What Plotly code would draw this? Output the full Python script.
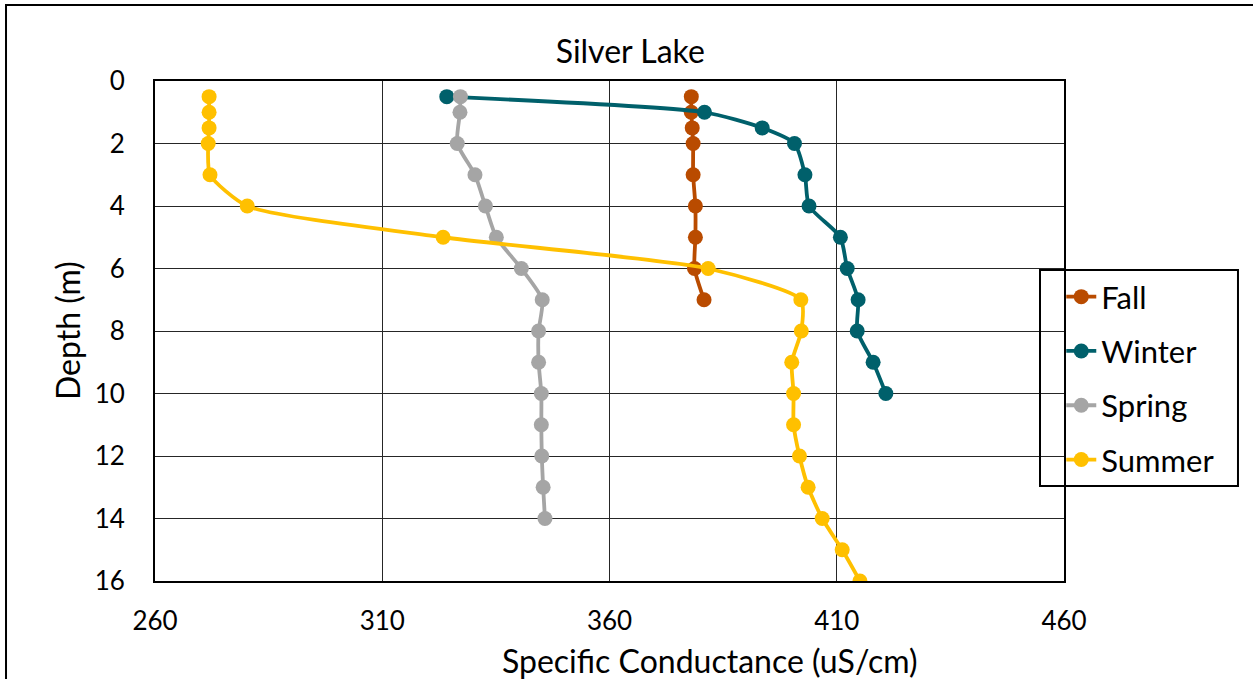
import plotly.graph_objects as go

# Specific conductance profiles (uS/cm) by depth (m), Silver Lake
fall_depth = [0.5, 1, 1.5, 2, 3, 4, 5, 6, 7]
fall_cond = [378.0, 378.0, 378.2, 378.4, 378.4, 378.9, 378.9, 378.7, 380.8]

winter_depth = [0.5, 1, 1.5, 2, 3, 4, 5, 6, 7, 8, 9, 10]
winter_cond = [324.2, 380.9, 393.6, 400.7, 403.0, 403.9, 410.8, 412.3, 414.7, 414.5, 418.0, 420.8]

spring_depth = [0.5, 1, 2, 3, 4, 5, 6, 7, 8, 9, 10, 11, 12, 13, 14]
spring_cond = [327.2, 327.1, 326.5, 330.4, 332.7, 335.1, 340.6, 345.2, 344.4, 344.4, 345.0, 345.0, 345.1, 345.4, 345.8]

summer_depth = [0.5, 1, 1.5, 2, 3, 4, 5, 6, 7, 8, 9, 10, 11, 12, 13, 14, 15, 16]
summer_cond = [271.9, 271.9, 271.9, 271.7, 272.1, 280.3, 323.4, 381.7, 402.1, 402.2, 400.1, 400.5,
               400.5, 401.8, 403.7, 406.8, 411.2, 415.1]

series = [
    ("Fall", fall_cond, fall_depth, "#B94B00"),
    ("Winter", winter_cond, winter_depth, "#00606B"),
    ("Spring", spring_cond, spring_depth, "#A5A5A5"),
    ("Summer", summer_cond, summer_depth, "#FFC000"),
]

FONT = "Lato"
TICK_FS = 26
LABEL_FS = 32

fig = go.Figure()
for name, xs, ys, color in series:
    fig.add_trace(go.Scatter(
        x=xs, y=ys, name=name, legendgroup=name,
        mode="lines+markers",
        line=dict(color=color, width=3.8, shape="spline", smoothing=0.6),
        marker=dict(color=color, size=15),
    ))

axis_common = dict(
    showgrid=True, gridcolor="#262626", gridwidth=1,
    showline=True, linecolor="black", linewidth=2, mirror=True,
    zeroline=False, ticks="", automargin=False,
    tickfont=dict(family=FONT, size=TICK_FS, color="black"),
)

fig.update_xaxes(range=[260, 460], dtick=50, tick0=260, ticklabelstandoff=16, **axis_common)
fig.update_yaxes(range=[16, 0], dtick=2, tick0=0, ticklabelstandoff=23, **axis_common)

fig.update_layout(
    width=1253, height=679,
    margin=dict(l=155, r=189, t=81, b=98),
    paper_bgcolor="white", plot_bgcolor="white",
    title=dict(text="Silver Lake", x=0.503, xanchor="center", y=0.923, yanchor="middle",
               font=dict(family=FONT, size=LABEL_FS, color="black")),
    legend=dict(
        x=0.997, y=0.622, xanchor="left", yanchor="top",
        bgcolor="rgba(0,0,0,0)", borderwidth=0,
        font=dict(family=FONT, size=31, color="black"),
        tracegroupgap=11, traceorder="grouped",
    ),
    showlegend=True,
    annotations=[
        dict(text="Specific Conductance (uS/cm)", xref="paper", yref="paper",
             x=0.6095, y=-0.158, xanchor="center", yanchor="middle", showarrow=False,
             font=dict(family=FONT, size=LABEL_FS, color="black")),
        dict(text="Depth (m)", xref="paper", yref="paper", textangle=-90,
             x=-0.0968, y=0.5, xanchor="center", yanchor="middle", showarrow=False,
             font=dict(family=FONT, size=LABEL_FS, color="black")),
    ],
    shapes=[
        # outer chart frame
        dict(type="rect", xref="paper", yref="paper",
             x0=-0.1639, x1=1.3, y0=-0.3, y1=1.152,
             line=dict(color="black", width=2), fillcolor="rgba(0,0,0,0)", layer="below"),
        # legend frame
        dict(type="rect", xref="paper", yref="paper",
             x0=0.9736, x1=1.1914, y0=0.19, y1=0.622,
             line=dict(color="black", width=2), fillcolor="rgba(0,0,0,0)", layer="above"),
    ],
)

fig.write_html("out.html")
